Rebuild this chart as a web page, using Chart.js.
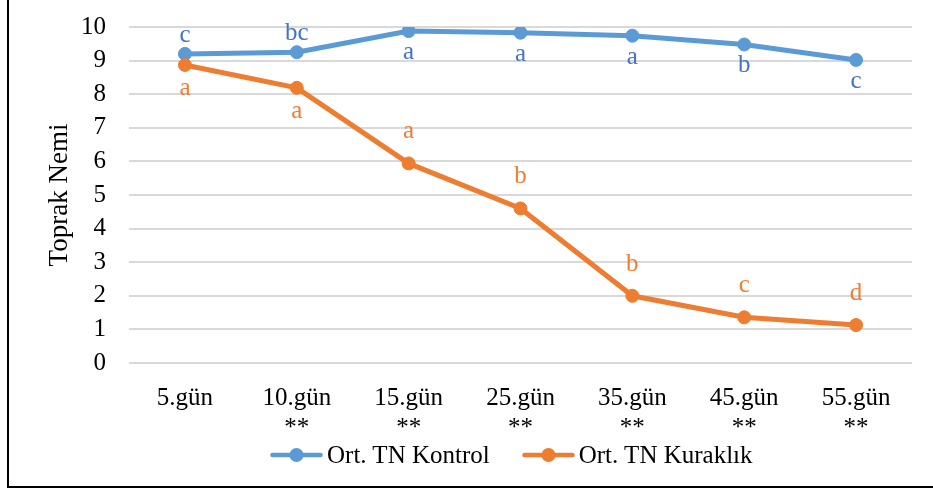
<!DOCTYPE html>
<html>
<head>
<meta charset="utf-8">
<script src="https://cdn.jsdelivr.net/npm/chart.js@4.4.1/dist/chart.umd.min.js"></script>
<style>
body{margin:0;background:#fff;}
#wrap{position:absolute;left:0;top:0;width:933px;height:490px;}
#frame{position:absolute;left:7px;top:0;width:940px;height:486px;border-left:2px solid #000;border-bottom:2px solid #000;}
#legend{position:absolute;left:270px;top:440px;display:flex;align-items:center;font:25px/30px 'Liberation Serif','Times New Roman',serif;color:#000;white-space:nowrap;}
#legend .item{display:flex;align-items:center;margin-right:32px;}
#legend canvas{margin-right:4px;}
</style>
</head>
<body>
<div id="frame"></div>
<div id="wrap"><canvas id="chart"></canvas></div>
<div id="legend"></div>
<script>
/* data */

const days = [["5.gün"], ["10.gün", "**"], ["15.gün", "**"], ["25.gün", "**"], ["35.gün", "**"], ["45.gün", "**"], ["55.gün", "**"]];

const kontrol = [9.20, 9.25, 9.88, 9.83, 9.74, 9.48, 9.02];
const kuraklik = [8.87, 8.19, 5.94, 4.60, 2.00, 1.36, 1.13];

const kontrolLetters = ["c", "bc", "a", "a", "a", "b", "c"];
const kuraklikLetters = ["a", "a", "a", "b", "b", "c", "d"];

const kontrolSide = ["up", "up", "down", "down", "down", "down", "down"];
const kuraklikSide = ["down", "down", "up", "up", "up", "up", "up"];

const serif = "'Liberation Serif', 'Times New Roman', serif";

const blue = "#5b9bd5";
const orange = "#ed7d31";

/* legend swatch: line with a dot */

function swatch(color){

let c = document.createElement("canvas");
c.width = 53;
c.height = 16;

let g = c.getContext("2d");
g.strokeStyle = color;
g.lineWidth = 4.5;
g.lineCap = "round";
g.beginPath();
g.moveTo(2.5, 8);
g.lineTo(50.5, 8);
g.stroke();

g.fillStyle = color;
g.beginPath();
g.arc(26.5, 8, 7, 0, Math.PI * 2);
g.fill();

return c;

}

/* html legend built from the chart's legend items */

const htmlLegend = {
id: "htmlLegend",
afterUpdate(chart){

const box = document.getElementById("legend");
box.innerHTML = "";

let items = chart.options.plugins.legend.labels.generateLabels(chart);
items.sort((a, b) => a.datasetIndex - b.datasetIndex);

items.forEach(item => {

let row = document.createElement("div");
row.className = "item";

row.appendChild(swatch(item.strokeStyle));

let text = document.createElement("span");
text.textContent = item.text;
row.appendChild(text);

box.appendChild(row);

});

}
};

/* significance letters next to each point */

const lettersPlugin = {
id: "letters",
afterDatasetsDraw(chart){

const ctx = chart.ctx;

chart.data.datasets.forEach((ds, i) => {

let meta = chart.getDatasetMeta(i);

ctx.save();
ctx.font = "25px " + serif;
ctx.fillStyle = ds.letterColor;
ctx.textAlign = "center";
ctx.textBaseline = "alphabetic";

meta.data.forEach((pt, j) => {
let dy = ds.letterSide[j] === "up" ? ds.letterUp : ds.letterDown;
ctx.fillText(ds.letters[j], pt.x, pt.y + dy);
});

ctx.restore();

});

}
};

new Chart(document.getElementById("chart"), {
type: "line",
data: {
labels: days,
datasets: [
{
label: "Ort. TN Kontrol",
data: kontrol,
borderColor: blue,
backgroundColor: blue,
borderWidth: 5,
pointRadius: 6.5,
pointBorderWidth: 1,
tension: 0,
order: 1,
letters: kontrolLetters,
letterSide: kontrolSide,
letterColor: "#4472c4",
letterUp: -12,
letterDown: 28
},
{
label: "Ort. TN Kuraklık",
data: kuraklik,
borderColor: orange,
backgroundColor: orange,
borderWidth: 5,
pointRadius: 6.5,
pointBorderWidth: 1,
tension: 0,
order: 0,
letters: kuraklikLetters,
letterSide: kuraklikSide,
letterColor: orange,
letterUp: -25,
letterDown: 30
}
]
},
options: {
responsive: true,
maintainAspectRatio: false,
animation: false,
layout: {
padding: {left: 10, right: 21, top: 27, bottom: 0}
},
scales: {
x: {
offset: true,
grid: {display: false},
border: {display: false},
ticks: {
color: "#000",
font: {family: serif, size: 25},
padding: 12,
maxRotation: 0,
autoSkip: false
},
afterFit(scale){
scale.height = 127;
}
},
y: {
min: 0,
max: 10,
grid: {color: "#d9d9d9", lineWidth: 2, drawTicks: true, tickLength: 11, tickColor: "rgba(0,0,0,0)"},
border: {display: false},
ticks: {
stepSize: 1,
color: "#000",
font: {family: serif, size: 25},
padding: 12
},
title: {
display: true,
text: "Toprak Nemi",
color: "#000",
font: {family: serif, size: 27},
padding: {top: 34, bottom: 0}
},
afterFit(scale){
scale.width = 119;
}
}
},
plugins: {
tooltip: {enabled: false},
legend: {display: false}
}
},
plugins: [htmlLegend, lettersPlugin]
});
</script>
</body>
</html>
